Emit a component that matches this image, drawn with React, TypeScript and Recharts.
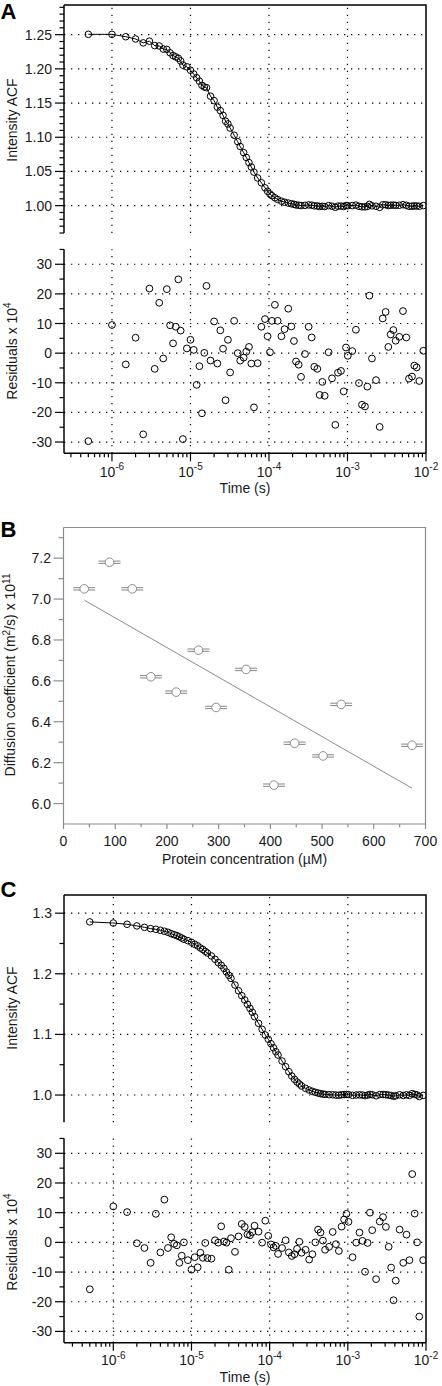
import { ComposedChart, XAxis, YAxis, Line, Scatter, ReferenceLine, ErrorBar } from "recharts"

const FONT = "'Liberation Sans', Arial, Helvetica, sans-serif"
const INK = "#1a1a1a"
const GREY = "#8c8c8c"
const DOTS = "1.3 5.7"

// ---- panel A: lag times (s), ACF, residuals x 10^4
const timesA = [
  5e-7, 1e-6, 1.5e-6, 2e-6, 2.5e-6, 3e-6, 3.5e-6, 4e-6, 4.5e-6, 5e-6,
  5.5e-6, 6e-6, 6.5e-6, 7e-6, 7.5e-6, 8e-6, 9e-6, 1e-5, 1.1e-5, 1.2e-5,
  1.3e-5, 1.4e-5, 1.5e-5, 1.6e-5, 1.8e-5, 2e-5, 2.2e-5, 2.4e-5, 2.6e-5, 2.8e-5,
  3e-5, 3.2e-5, 3.6e-5, 4e-5, 4.3e-5, 4.76e-5, 5.14e-5, 5.56e-5, 5.96e-5, 6.44e-5,
  7.17e-5, 8e-5, 8.9e-5, 9.6e-5, 1.03e-4, 1.09e-4, 1.19e-4, 1.29e-4, 1.44e-4, 1.58e-4,
  1.76e-4, 1.93e-4, 2.08e-4, 2.21e-4, 2.39e-4, 2.56e-4, 2.87e-4, 3.2e-4, 3.5e-4, 3.78e-4,
  4.13e-4, 4.42e-4, 4.78e-4, 5.12e-4, 5.75e-4, 6.35e-4, 7e-4, 7.57e-4, 8.26e-4, 8.94e-4,
  9.57e-4, 1.01e-3, 1.15e-3, 1.28e-3, 1.4e-3, 1.53e-3, 1.67e-3, 1.79e-3, 1.9e-3, 2.05e-3,
  2.31e-3, 2.57e-3, 2.81e-3, 3.06e-3, 3.31e-3, 3.55e-3, 3.84e-3, 4.11e-3, 4.57e-3, 5.09e-3,
  5.61e-3, 6.07e-3, 6.63e-3, 7.1e-3, 7.6e-3, 8.22e-3, 9.25e-3,
]
const acfA = [
  1.2505, 1.2505, 1.247, 1.2437, 1.238, 1.2405, 1.234, 1.2335, 1.229, 1.2285,
  1.2235, 1.2195, 1.2175, 1.2155, 1.2115, 1.2055, 1.203, 1.198, 1.1925, 1.187,
  1.182, 1.176, 1.1735, 1.1725, 1.16, 1.1535, 1.144, 1.139, 1.132, 1.1235,
  1.1195, 1.1135, 1.103, 1.0935, 1.0865, 1.0775, 1.0705, 1.063, 1.0565, 1.049,
  1.0405, 1.0335, 1.026, 1.021, 1.017, 1.0145, 1.0115, 1.009, 1.0065, 1.005,
  1.0038, 1.0028, 1.0019, 1.001, 1.0006, 1.0001, 1.0004, 1.0011, 1.0007, 0.9997,
  0.9996, 0.9987, 0.9991, 0.9986, 1.0, 0.9992, 0.9976, 0.9993, 0.9994, 0.9987,
  1.0002, 0.9999, 1.0001, 1.0008, 0.999, 0.9983, 0.9982, 0.9989, 1.0019, 0.9998,
  0.9991, 0.9975, 1.0012, 1.0014, 1.0002, 1.0006, 1.0008, 1.0004, 1.0005, 1.0014,
  1.0005, 0.9991, 0.9992, 0.9996, 0.9995, 0.9991, 1.0001,
]
const resA = [
  -29.7, 9.5, -3.8, 5.2, -27.4, 21.8, -5.3, 17, -1.8, 21.6,
  9.4, 3.3, 8.9, 24.9, 7.6, -29, 1.6, 4.5, 1.1, -10.7,
  -4.4, -20.3, 0.1, 22.7, -2.5, 10.7, -3.5, 7.7, 1.5, -15.9,
  4.5, -6.5, 10.9, 0, -2.5, -1.5, 0.5, 2.1, -3.5, -18.3,
  -3.4, 8.9, 11.5, 5.7, 0.3, 10.9, 16.3, 10.9, 5.7, 8.1,
  15, 9, 4.1, -2.8, -3.9, -8, -0.3, 8.9, 5.3, -4.6,
  -5.3, -14.1, -9.7, -14.4, 0.3, -8.5, -24.2, -6.6, -6, -12.9,
  1.9, -0.9, 0.7, 7.9, -10.1, -17.4, -18, -11.3, 19.4, -1.8,
  -9.1, -24.9, 11.7, 13.9, 2.1, 6.3, 7.8, 4.2, 5.5, 14.2,
  5.3, -8.6, -7.9, -4.2, -4.8, -9.4, 0.8,
]

// ---- panel B: protein concentration (µM) vs diffusion coefficient
const concB = [40, 89, 133, 169, 218, 261, 295, 353, 407, 447, 502, 537, 674]
const diffB = [7.05, 7.18, 7.05, 6.62, 6.545, 6.75, 6.47, 6.656, 6.09, 6.295, 6.233, 6.485, 6.285]
const errB = [21, 21, 21, 21, 21, 21, 21, 21, 21, 21, 21, 21, 21]
const fitConcB = [40, 674]
const fitDiffB = [6.995, 6.075]

// ---- panel C
const timesC = [
  5e-7, 1e-6, 1.5e-6, 2e-6, 2.5e-6, 3e-6, 3.5e-6, 4e-6, 4.5e-6, 5e-6,
  5.5e-6, 6e-6, 6.5e-6, 7e-6, 7.5e-6, 8e-6, 9e-6, 1e-5, 1.1e-5, 1.2e-5,
  1.3e-5, 1.4e-5, 1.5e-5, 1.6e-5, 1.8e-5, 2e-5, 2.2e-5, 2.4e-5, 2.6e-5, 2.8e-5,
  3e-5, 3.2e-5, 3.6e-5, 4e-5, 4.4e-5, 4.8e-5, 5.2e-5, 5.6e-5, 6e-5, 6.4e-5,
  7.2e-5, 8e-5, 8.8e-5, 9.6e-5, 1.04e-4, 1.12e-4, 1.2e-4, 1.28e-4, 1.44e-4, 1.6e-4,
  1.76e-4, 1.92e-4, 2.08e-4, 2.24e-4, 2.4e-4, 2.56e-4, 2.88e-4, 3.2e-4, 3.52e-4, 3.84e-4,
  4.16e-4, 4.48e-4, 4.8e-4, 5.12e-4, 5.76e-4, 6.4e-4, 7.04e-4, 7.68e-4, 8.32e-4, 8.96e-4,
  9.6e-4, 1.02e-3, 1.15e-3, 1.28e-3, 1.41e-3, 1.54e-3, 1.66e-3, 1.79e-3, 1.92e-3, 2.05e-3,
  2.3e-3, 2.56e-3, 2.82e-3, 3.07e-3, 3.33e-3, 3.58e-3, 3.84e-3, 4.1e-3, 4.6e-3, 5.12e-3,
  5.63e-3, 6.14e-3, 6.66e-3, 7.17e-3, 7.68e-3, 8.2e-3, 9.2e-3,
]
const acfC = [
  1.2856, 1.2838, 1.2817, 1.279, 1.2767, 1.2745, 1.2734, 1.2718, 1.2702, 1.2685,
  1.2662, 1.2645, 1.263, 1.261, 1.259, 1.257, 1.2546, 1.252, 1.2487, 1.246,
  1.2426, 1.24, 1.237, 1.2343, 1.2294, 1.224, 1.2185, 1.214, 1.209, 1.203,
  1.1975, 1.1925, 1.1815, 1.172, 1.1639, 1.1568, 1.1496, 1.143, 1.1365, 1.1293,
  1.1183, 1.1084, 1.099, 1.092, 1.0847, 1.078, 1.0715, 1.066, 1.0561, 1.0467,
  1.0385, 1.0314, 1.0259, 1.0215, 1.0182, 1.0149, 1.011, 1.0083, 1.0061, 1.0045,
  1.0033, 1.0022, 1.0016, 1.001, 1.0005, 1.0004, 0.9999, 0.9997, 1.0005, 1.0008,
  1.001, 1.0007, 0.9995, 1.0, 1.0003, 1.0, 0.999, 1.0, 1.001, 1.0004,
  0.9988, 1.0007, 1.0008, 1.0005, 0.9998, 0.9992, 0.998, 0.9987, 1.0004, 0.9993,
  1.0003, 0.9994, 1.0023, 1.001, 1.0, 0.9975, 0.9994,
]
const resC = [
  -15.8, 12.1, 10.2, -0.3, -1.9, -6.9, 9.6, -3.4, 14.4, -1.9,
  1.7, -0.5, -1, -6.9, -4.5, 0, -6, -9.2, -5, -8.4,
  -3.5, -5.2, -0.2, -5.3, -5.5, 0.7, -0.1, 5.4, 0.3, -0.1,
  -9.2, 1.4, -3.2, 2, 6.2, 5.2, 2.7, 2.4, 3.4, 5.6,
  3.6, -0.1, 7.3, 2.2, -0.7, -1.7, -1.2, -3.9, -1.9, 0.7,
  -3.4, -4.6, -4, -2.2, 0.2, -3.5, -2.5, -5.8, -4, 0,
  4.3, 3.3, 0.6, -2.5, -1.5, 3.5, -0.6, -2.9, 5.3, 7.7,
  9.6, 6.9, -5, -0.1, 3.3, 0.5, -9.9, -0.2, 10, 4.1,
  -12.4, 7, 8.5, 5.2, -1.5, -8.5, -19.5, -12.9, 4.3, -6.9,
  2.6, -6, 23, 9.7, 0, -25, -6,
]

// ---- ticks
const logTicks = [
  3e-7, 4e-7, 5e-7, 6e-7, 7e-7, 8e-7, 9e-7,
  1e-6, 2e-6, 3e-6, 4e-6, 5e-6, 6e-6, 7e-6, 8e-6, 9e-6,
  1e-5, 2e-5, 3e-5, 4e-5, 5e-5, 6e-5, 7e-5, 8e-5, 9e-5,
  1e-4, 2e-4, 3e-4, 4e-4, 5e-4, 6e-4, 7e-4, 8e-4, 9e-4,
  1e-3, 2e-3, 3e-3, 4e-3, 5e-3, 6e-3, 7e-3, 8e-3, 9e-3, 1e-2,
]
const logMajor = [1e-6, 1e-5, 1e-4, 1e-3, 1e-2]
const gridTimes = [1e-6, 1e-5, 1e-4, 1e-3]
const acfTicksA = [
  0.96, 0.97, 0.98, 0.99, 1.0, 1.01, 1.02, 1.03, 1.04, 1.05, 1.06, 1.07, 1.08, 1.09,
  1.1, 1.11, 1.12, 1.13, 1.14, 1.15, 1.16, 1.17, 1.18, 1.19, 1.2, 1.21, 1.22, 1.23,
  1.24, 1.25, 1.26, 1.27, 1.28, 1.29,
]
const acfMajorA = [1.0, 1.05, 1.1, 1.15, 1.2, 1.25]
const acfTicksC = [1.0, 1.05, 1.1, 1.15, 1.2, 1.25, 1.3]
const acfMajorC = [1.0, 1.1, 1.2, 1.3]
const resTicks = [-30, -25, -20, -15, -10, -5, 0, 5, 10, 15, 20, 25, 30, 35]
const resMajor = [-30, -20, -10, 0, 10, 20, 30]
const yTicksB = [6.0, 6.1, 6.2, 6.3, 6.4, 6.5, 6.6, 6.7, 6.8, 6.9, 7.0, 7.1, 7.2, 7.3]
const yMajorB = [6.0, 6.2, 6.4, 6.6, 6.8, 7.0, 7.2]
const xTicksB = [0, 50, 100, 150, 200, 250, 300, 350, 400, 450, 500, 550, 600, 650, 700]
const xMajorB = [0, 100, 200, 300, 400, 500, 600, 700]

const rowsA = timesA.map((t, i) => ({ t, g: acfA[i], r: resA[i] }))
const rowsC = timesC.map((t, i) => ({ t, g: acfC[i], r: resC[i] }))
const rowsB = concB.map((c, i) => ({ c, d: diffB[i], e: errB[i] }))

const isMajor = (majors: number[], v: number) =>
  majors.some((m) => Math.abs(m - v) < 1e-9 + Math.abs(m) * 1e-6)

function LeftTick(props: any) {
  const { x, y, payload, majors, fmt, majLen, minLen, color, gap } = props
  const major = isMajor(majors, payload.value)
  return (
    <g>
      <line x1={x} x2={x - (major ? majLen : minLen)} y1={y} y2={y} stroke={color} strokeWidth={1.2} />
      {major && (
        <text x={x - majLen - gap} y={y + 5} textAnchor="end" fontSize={14} fill={INK} fontFamily={FONT}>
          {fmt(payload.value)}
        </text>
      )}
    </g>
  )
}

function BottomTick(props: any) {
  const { x, y, payload, majors, majLen, minLen, color, dy, log } = props
  const v = payload.value
  const major = isMajor(majors, v)
  return (
    <g>
      <line x1={x} x2={x} y1={y} y2={y + (major ? majLen : minLen)} stroke={color} strokeWidth={1.2} />
      {major &&
        (log ? (
          <text x={x} y={y + dy} textAnchor="middle" fontSize={14} fill={INK} fontFamily={FONT}>
            <tspan>10</tspan>
            <tspan dy={-6.5} fontSize={10}>{String(Math.round(Math.log10(v)))}</tspan>
          </text>
        ) : (
          <text x={x} y={y + dy} textAnchor="middle" fontSize={14} fill={INK} fontFamily={FONT}>
            {String(v)}
          </text>
        ))}
    </g>
  )
}

const axisBlack = { stroke: "#000", strokeWidth: 1.5 }
const fmt2 = (v: number) => v.toFixed(2)
const fmt1 = (v: number) => v.toFixed(1)
const fmt0 = (v: number) => String(v)

function AcfChart({ rows, dx, dy, ticks, majors, fmt, height, margin }: any) {
  return (
    <ComposedChart width={442} height={height} data={rows} margin={margin}>
      <XAxis type="number" dataKey="t" scale="log" domain={dx} allowDataOverflow hide />
      <YAxis
        type="number"
        domain={dy}
        allowDataOverflow
        ticks={ticks}
        interval={0}
        width={60}
        tickLine={false}
        tickSize={0}
        tickMargin={0}
        axisLine={axisBlack}
        tick={(p: any) => (
          <LeftTick {...p} majors={majors} fmt={fmt} majLen={9} minLen={4.5} color="#000" gap={3} />
        )}
      />
      {gridTimes.map((t) => (
        <ReferenceLine key={"x" + t} x={t} stroke="#000" strokeWidth={1.2} strokeDasharray={DOTS} />
      ))}
      {majors.map((v: number) => (
        <ReferenceLine key={"y" + v} y={v} stroke="#000" strokeWidth={1.2} strokeDasharray={DOTS} />
      ))}
      <Line
        dataKey="g"
        stroke="#000"
        strokeWidth={1}
        dot={{ r: 3.3, fill: "none", stroke: "#000", strokeWidth: 1 }}
        isAnimationActive={false}
      />
    </ComposedChart>
  )
}

function ResChart({ rows, dx, height, margin, xh, dy }: any) {
  return (
    <ComposedChart width={442} height={height} data={rows} margin={margin}>
      <XAxis
        type="number"
        dataKey="t"
        scale="log"
        domain={dx}
        allowDataOverflow
        ticks={logTicks}
        interval={0}
        height={xh}
        tickLine={false}
        tickSize={0}
        tickMargin={0}
        axisLine={axisBlack}
        tick={(p: any) => <BottomTick {...p} majors={logMajor} majLen={8} minLen={4} color="#000" dy={dy} log />}
      />
      <YAxis
        type="number"
        domain={[-33.8, 35.05]}
        allowDataOverflow
        ticks={resTicks}
        interval={0}
        width={60}
        tickLine={false}
        tickSize={0}
        tickMargin={0}
        axisLine={axisBlack}
        tick={(p: any) => (
          <LeftTick {...p} majors={resMajor} fmt={fmt0} majLen={9} minLen={4.5} color="#000" gap={3} />
        )}
      />
      {gridTimes.map((t) => (
        <ReferenceLine key={"x" + t} x={t} stroke="#000" strokeWidth={1.2} strokeDasharray={DOTS} />
      ))}
      {resMajor.map((v) => (
        <ReferenceLine key={"y" + v} y={v} stroke="#000" strokeWidth={1.2} strokeDasharray={DOTS} />
      ))}
      <Scatter
        dataKey="r"
        isAnimationActive={false}
        shape={(p: any) => <circle cx={p.cx} cy={p.cy} r={3.4} fill="none" stroke="#000" strokeWidth={1} />}
      />
    </ComposedChart>
  )
}

function DiffChart() {
  return (
    <ComposedChart width={442} height={376} margin={{ top: 27.5, right: 16.5, bottom: 6, left: 3.5 }}>
      <XAxis
        type="number"
        dataKey="c"
        domain={[0, 700]}
        allowDataOverflow
        ticks={xTicksB}
        interval={0}
        height={46}
        tickLine={false}
        tickSize={0}
        tickMargin={0}
        axisLine={{ stroke: GREY, strokeWidth: 1.2 }}
        tick={(p: any) => <BottomTick {...p} majors={xMajorB} majLen={5} minLen={3.3} color={GREY} dy={21.5} />}
      />
      <YAxis
        type="number"
        domain={[5.9, 7.35]}
        allowDataOverflow
        ticks={yTicksB}
        interval={0}
        width={60}
        tickLine={false}
        tickSize={0}
        tickMargin={0}
        axisLine={{ stroke: GREY, strokeWidth: 1.2 }}
        tick={(p: any) => (
          <LeftTick {...p} majors={yMajorB} fmt={fmt1} majLen={10} minLen={5} color={GREY} gap={2.5} />
        )}
      />
      <ReferenceLine
        segment={[
          { x: fitConcB[0], y: fitDiffB[0] },
          { x: fitConcB[1], y: fitDiffB[1] },
        ]}
        stroke={GREY}
        strokeWidth={1}
      />
      <Scatter
        data={rowsB}
        dataKey="d"
        isAnimationActive={false}
        shape={(p: any) => <circle cx={p.cx} cy={p.cy} r={4.3} fill="#fff" stroke={GREY} strokeWidth={1} />}
      >
        <ErrorBar dataKey="e" direction="x" width={0} stroke={GREY} strokeWidth={3.4} isAnimationActive={false} />
        <ErrorBar dataKey="e" direction="x" width={0} stroke="#fff" strokeWidth={1.3} isAnimationActive={false} />
      </Scatter>
    </ComposedChart>
  )
}

const abs = (top: number) => ({ position: "absolute" as const, left: 0, top })

function Overlay() {
  const t = { fontSize: 14, fill: INK, fontFamily: FONT, textAnchor: "middle" as const }
  const rot = (x: number, y: number) => `rotate(-90 ${x} ${y})`
  return (
    <svg width={442} height={1386} style={{ position: "absolute", left: 0, top: 0, pointerEvents: "none" }}>
      {/* frames */}
      <path d="M64 5 H426 V453.3" fill="none" stroke="#000" strokeWidth={1.5} />
      <path d="M63.5 527.5 H425.5 V824" fill="none" stroke={GREY} strokeWidth={1.2} />
      <path d="M64 895 H426 V1342.7" fill="none" stroke="#000" strokeWidth={1.5} />
      {/* panel letters */}
      <text x={0.5} y={19} fontSize={22} fontWeight="bold" fontFamily={FONT} fill="#000">A</text>
      <text x={0.5} y={537.3} fontSize={22} fontWeight="bold" fontFamily={FONT} fill="#000">B</text>
      <text x={0.5} y={897} fontSize={22} fontWeight="bold" fontFamily={FONT} fill="#000">C</text>
      {/* panel A titles */}
      <text {...t} x={17} y={120} transform={rot(17, 120)}>Intensity ACF</text>
      <text {...t} x={16.8} y={351} transform={rot(16.8, 351)}>
        Residuals x 10<tspan dy={-5.5} fontSize={10}>4</tspan>
      </text>
      <text {...t} x={245} y={492.5}>Time (s)</text>
      {/* panel B titles */}
      <text {...t} x={15.3} y={675} transform={rot(15.3, 675)}>
        Diffusion coefficient (m<tspan dy={-5.5} fontSize={10}>2</tspan>
        <tspan dy={5.5}>/s) x 10</tspan>
        <tspan dy={-5.5} fontSize={10}>11</tspan>
      </text>
      <text {...t} x={244.5} y={863.5}>Protein concentration (µM)</text>
      {/* panel C titles */}
      <text {...t} x={17} y={1008} transform={rot(17, 1008)}>Intensity ACF</text>
      <text {...t} x={16.8} y={1242} transform={rot(16.8, 1242)}>
        Residuals x 10<tspan dy={-5.5} fontSize={10}>4</tspan>
      </text>
      <text {...t} x={245} y={1382}>Time (s)</text>
    </svg>
  )
}

export default function App() {
  return (
    <div
      style={{
        position: "absolute",
        left: 0,
        top: 0,
        width: 442,
        height: 1386,
        background: "#fff",
        overflow: "hidden",
        fontFamily: FONT,
      }}
    >
      <div style={abs(0)}>
        <AcfChart
          rows={rowsA}
          dx={[2.45e-7, 1e-2]}
          dy={[0.96, 1.2934]}
          ticks={acfTicksA}
          majors={acfMajorA}
          fmt={fmt2}
          height={240}
          margin={{ top: 5, right: 16, bottom: 7, left: 4 }}
        />
      </div>
      <div style={abs(240)}>
        <ResChart
          rows={rowsA}
          dx={[2.45e-7, 1e-2]}
          height={260}
          xh={42}
          dy={23.2}
          margin={{ top: 9.3, right: 16, bottom: 4.7, left: 4 }}
        />
      </div>
      <div style={abs(500)}>
        <DiffChart />
      </div>
      <div style={abs(880)}>
        <AcfChart
          rows={rowsC}
          dx={[2.34e-7, 1e-2]}
          dy={[0.955, 1.33]}
          ticks={acfTicksC}
          majors={acfMajorC}
          fmt={fmt1}
          height={250}
          margin={{ top: 15, right: 16, bottom: 7.7, left: 4 }}
        />
      </div>
      <div style={abs(1130)}>
        <ResChart
          rows={rowsC}
          dx={[2.34e-7, 1e-2]}
          height={256}
          xh={40}
          dy={22.3}
          margin={{ top: 8.3, right: 16, bottom: 3.3, left: 4 }}
        />
      </div>
      <Overlay />
    </div>
  )
}
